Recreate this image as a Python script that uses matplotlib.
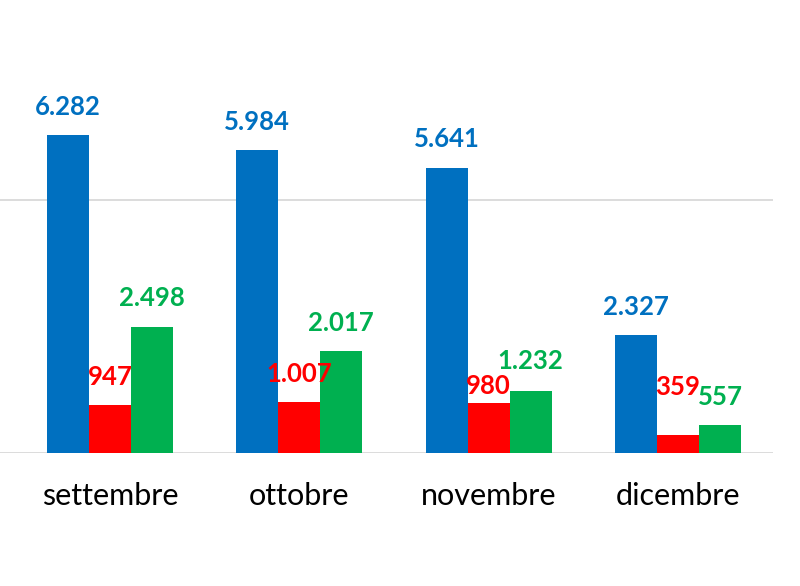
import matplotlib
matplotlib.use("Agg")
import matplotlib.pyplot as plt
import numpy as np

categories = ["settembre", "ottobre", "novembre", "dicembre"]
blue_vals = [6282, 5984, 5641, 2327]
red_vals = [947, 1007, 980, 359]
green_vals = [2498, 2017, 1232, 557]
blue_labels = ["6.282", "5.984", "5.641", "2.327"]
red_labels = ["947", "1.007", "980", "359"]
green_labels = ["2.498", "2.017", "1.232", "557"]

BLUE = "#0070C0"
RED = "#FF0000"
GREEN = "#00B050"

plt.rcParams['font.family'] = ['Lato', 'DejaVu Sans']

fig = plt.figure(figsize=(8, 5.86), dpi=100)
W, H = 800, 586
ax = fig.add_axes([0, (H - 453) / H, 773 / W, 453 / H])

x = np.arange(len(categories))
bw = 0.222
series = [(blue_vals, blue_labels, BLUE, -bw, [14.5, 14.5, 14.5, 14.5]),
          (red_vals, red_labels, RED, 0.0, [14.5, 14.5, 7, 29]),
          (green_vals, green_labels, GREEN, bw, [14.5, 14.5, 15.5, 14.5])]

ax.set_xlim(-0.581, 3.502)
ax.set_ylim(0, 8953)
ax.set_yticks([0, 5000])
ax.yaxis.grid(True, color="#D9D9D9", linewidth=1.3)
ax.set_axisbelow(True)
for s in ax.spines.values():
    s.set_visible(False)
ax.tick_params(axis="y", length=0, labelleft=False)
ax.tick_params(axis="x", length=0, pad=21)

for vals, labs, col, off, offsets in series:
    bars = ax.bar(x + off, vals, bw, color=col, zorder=2)
    for b, lab, dy in zip(bars, labs, offsets):
        ax.annotate(lab, (b.get_x() + b.get_width() / 2, b.get_height()),
                    xytext=(0, dy), textcoords="offset points",
                    ha="center", va="baseline", color=col,
                    fontsize=18.5, fontweight="bold", zorder=3)

ax.set_xticks(x)
ax.set_xticklabels(categories, fontsize=22, color="#000000")

fig.savefig("out.png", dpi=100)
